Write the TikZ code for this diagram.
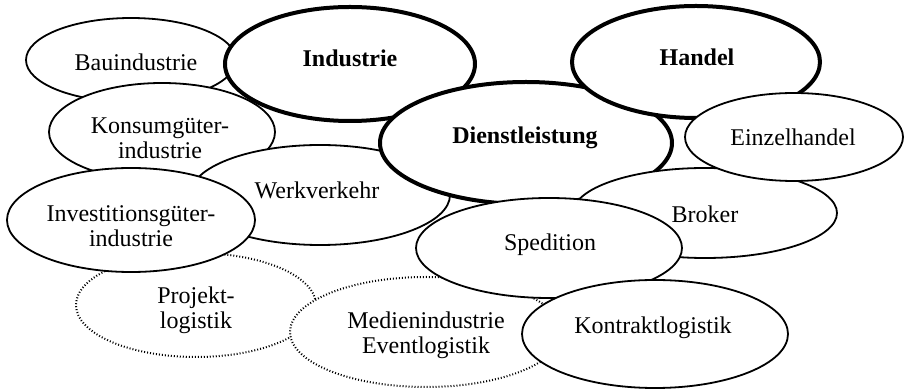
\documentclass[tikz,border=0pt]{standalone}
\usepackage{fontspec}
\setmainfont{Liberation Serif}
\usetikzlibrary{shapes.geometric}

\begin{document}
\begin{tikzpicture}[x=0.5pt,y=-0.5pt,
  blob/.style={ellipse,draw,fill=white,line width=0.9pt,inner sep=0pt,outer sep=0pt},
  core/.style={blob,line width=2pt},
  vague/.style={blob,line width=1pt,dash pattern=on 0.5pt off 1pt},
  lbl/.style={align=center,font=\fontsize{12}{12.5}\selectfont,inner sep=0pt}]
\useasboundingbox (0,0) rectangle (905,389);
% ellipses, back to front
\foreach \n/\k/\x/\y/\a/\b in %
{bau/blob/131/60/105/42,konsum/blob/162/132/113/49,industrie/core/350/64/125/57,
 werk/blob/320/195/130/50,dienst/core/526/143/146/61,handel/core/696/62/124/56,
 broker/blob/705/213/132/45,einzel/blob/794/137/109/44,projekt/vague/196/305/120/52,
 medien/vague/426/332/136/55,invest/blob/131/220/124/52,spedition/blob/549/248/133/50,
 kontrakt/blob/655/334/133/54} {
   \node[\k,minimum width=\a pt,minimum height=\b pt] (\n) at (\x,\y) {};
}
% labels
\foreach \n/\x/\y/\t in %
{bau/136/62/Bauindustrie,industrie/350/58/\textbf{Industrie},handel/697/57/\textbf{Handel},
 konsum/160/138/Konsumgüter-\\industrie,dienst/525/138/\textbf{Dienstleistung},
 einzel/793/137/Einzelhandel,werk/317/190/Werkverkehr,invest/131/226/Investitionsgüter-\\industrie,
 broker/705/214/Broker,spedition/550/245/Spedition,projekt/196/310/Projekt-\\logistik,
 medien/426/335/Medienindustrie\\Eventlogistik,kontrakt/653/328/Kontraktlogistik} {
   \node[lbl] (\n-t) at (\x,\y) {\t};
}
\end{tikzpicture}
\end{document}
